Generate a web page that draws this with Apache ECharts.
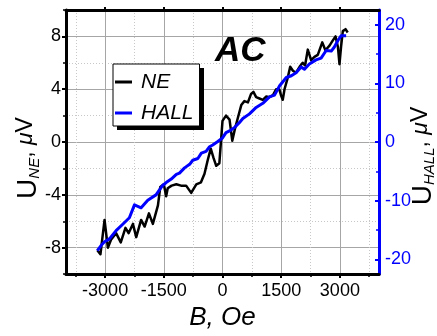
<!DOCTYPE html>
<html>
<head>
<meta charset="utf-8">
<script src="https://cdn.jsdelivr.net/npm/echarts@6/dist/echarts.min.js"></script>
<style>
  html, body { margin: 0; padding: 0; background: #fff; }
  #chart { width: 437px; height: 336px; }
</style>
</head>
<body>
<div id="chart"></div>
<script>
// Nernst-Ettingshausen (NE) signal vs field, left axis (µV)
const neField = [
  -3200, -3120, -3015, -2930, -2850, -2720, -2600, -2480, -2400, -2290,
  -2205, -2080, -1990, -1880, -1780, -1650, -1590, -1500, -1440, -1400,
  -1300, -1180, -1060, -930, -800, -670, -550, -460, -380, -300,
  -230, -160, -80, 0, 90, 180, 250, 310, 390, 480,
  560, 650, 730, 790, 860, 945, 1030, 1120, 1200, 1290,
  1370, 1450, 1500, 1540, 1585, 1670, 1730, 1800, 1880, 1970,
  2050, 2110, 2180, 2265, 2350, 2435, 2550, 2630, 2735, 2820,
  2890, 2950, 2990, 3030, 3075, 3145, 3200
];
const neValues = [
  -8.2, -8.5, -5.9, -8.0, -7.4, -6.9, -7.6, -6.5, -6.9, -6.2,
  -7.2, -5.9, -6.4, -5.4, -6.2, -4.8, -3.4, -3.2, -4.1, -3.5,
  -3.3, -3.2, -3.3, -3.3, -3.85, -3.2, -3.05, -2.4, -1.4, -0.5,
  -1.2, -1.8, -1.6, 1.6, 2.0, 1.7, 0.1, 0.9, 1.8, 2.8,
  3.1, 3.0, 3.65, 3.8, 3.4, 3.3, 3.2, 3.45, 3.4, 3.55,
  4.0, 4.0, 3.5, 3.2, 4.0, 4.9, 5.7, 5.4, 5.25, 5.7,
  6.0, 5.8, 7.0, 6.2, 6.45, 6.6, 7.55, 6.95, 7.3, 7.7,
  8.0, 7.2, 5.9, 7.2, 8.4, 8.55, 8.3
];

// Hall signal vs field, right axis (µV)
const hallField = [
  -3200, -3100, -3015, -2890, -2720, -2550, -2380, -2250, -2080, -1910,
  -1700, -1530, -1440, -1310, -1180, -1100, -970, -840, -760, -630,
  -540, -420, -330, -250, -120, 0, 90, 180, 310, 430,
  520, 690, 860, 1030, 1200, 1330, 1460, 1630, 1760, 1880,
  2010, 2095, 2220, 2390, 2520, 2650, 2780, 2860, 2950, 3030,
  3160
];
const hallValues = [
  -18.5, -17.6, -17.0, -16.5, -15.1, -14.0, -12.9, -10.7, -11.2, -9.9,
  -9.0, -7.4, -6.9, -6.3, -5.5, -5.3, -4.4, -3.8, -3.1, -2.8,
  -1.9, -1.6, -0.8, -0.5, 0.1, 0.7, 1.6, 1.9, 2.5, 3.3,
  4.0, 4.8, 5.9, 6.6, 7.7, 8.0, 9.6, 11.0, 11.3, 11.8,
  12.8, 12.4, 13.3, 14.0, 14.3, 15.6, 15.5, 16.2, 17.3, 18.1,
  18.1
];

// Tick positions
const xMajor = [-3000, -1500, 0, 1500, 3000];
const xMinor = [-3750, -2250, -750, 750, 2250, 3750];
const leftMajor = [-8, -4, 0, 4, 8];
const leftMinor = [-10, -6, -2, 2, 6, 10];
const rightMajor = [-20, -10, 0, 10, 20];
const rightMinor = [-15, -5, 5, 15];

const FONT = '"Liberation Sans", Arial, sans-serif';
const zip = (xs, ys) => xs.map((x, i) => [x, ys[i]]);
const plain = v => String(v);

const chart = echarts.init(document.getElementById('chart'), null, { renderer: 'canvas' });

const majorGrid = { show: true, lineStyle: { color: '#a6a6a6', width: 1, type: 'solid' } };
const minorGrid = { show: true, lineStyle: { color: '#c8c8c8', width: 1, type: [1, 2] } };
const tickLabel = { fontFamily: FONT, fontSize: 18, color: '#000', formatter: plain };

const titleRich = {
  u: { fontFamily: FONT, fontSize: 28, lineHeight: 28, verticalAlign: 'top', color: '#000' },
  s: { fontFamily: FONT, fontSize: 15, fontStyle: 'italic', lineHeight: 15, padding: [17, 0, 0, 0], verticalAlign: 'bottom', color: '#000' },
  t: { fontFamily: FONT, fontSize: 23, lineHeight: 28, verticalAlign: 'top', color: '#000' },
  m: { fontFamily: FONT, fontSize: 23, fontStyle: 'italic', lineHeight: 28, verticalAlign: 'top', color: '#000' }
};

const blackLine = w => ({ show: true, onZero: false, lineStyle: { color: '#000', width: w } });

chart.setOption({
  animation: false,
  backgroundColor: '#fff',
  grid: { left: 66, right: 58, top: 10, bottom: 53, containLabel: false },
  xAxis: [
    {
      type: 'value', position: 'bottom', min: -4000, max: 4000,
      axisLine: blackLine(3),
      axisTick: { show: true, customValues: xMajor, length: 4, lineStyle: { color: '#000', width: 2 } },
      axisLabel: { show: true, customValues: xMajor, margin: 8, ...tickLabel },
      splitLine: majorGrid,
      name: 'B, Oe', nameLocation: 'middle', nameGap: 30,
      nameTextStyle: { fontFamily: FONT, fontSize: 26, fontStyle: 'italic', color: '#000' }
    },
    {
      type: 'value', position: 'bottom', min: -4000, max: 4000,
      axisLine: { show: false, onZero: false },
      axisTick: { show: true, customValues: xMinor, length: 3, lineStyle: { color: '#000', width: 1.5 } },
      axisLabel: { show: false },
      splitLine: minorGrid
    },
    {
      type: 'value', position: 'top', min: -4000, max: 4000,
      axisLine: blackLine(3),
      axisTick: { show: true, customValues: xMajor, length: 3, lineStyle: { color: '#000', width: 2 } },
      axisLabel: { show: false },
      splitLine: { show: false }
    }
  ],
  yAxis: [
    {
      type: 'value', position: 'left', min: -10, max: 10,
      axisLine: blackLine(3),
      axisTick: { show: true, customValues: leftMajor, length: 4, lineStyle: { color: '#000', width: 2 } },
      axisLabel: { show: true, customValues: leftMajor, margin: 5, ...tickLabel },
      splitLine: majorGrid
    },
    {
      type: 'value', position: 'left', min: -10, max: 10,
      axisLine: { show: false, onZero: false },
      axisTick: { show: true, customValues: leftMinor, length: 3, lineStyle: { color: '#000', width: 1.5 } },
      axisLabel: { show: false },
      splitLine: minorGrid
    },
    {
      type: 'value', position: 'right', min: -22.5, max: 22.5,
      axisLine: { show: true, onZero: false, lineStyle: { color: '#0000ff', width: 3 } },
      axisTick: { show: true, inside: true, customValues: rightMajor, length: 4, lineStyle: { color: '#0000ff', width: 2 } },
      axisLabel: { show: true, customValues: rightMajor, margin: 6, ...tickLabel, color: '#0000ff' },
      splitLine: { show: false }
    },
    {
      type: 'value', position: 'right', min: -22.5, max: 22.5,
      axisLine: { show: false, onZero: false },
      axisTick: { show: true, inside: true, customValues: rightMinor, length: 3, lineStyle: { color: '#0000ff', width: 1.5 } },
      axisLabel: { show: false },
      splitLine: { show: false }
    }
  ],
  legend: {
    orient: 'vertical', left: 113, top: 64, z: 10,
    padding: [6, 6, 1, 2], itemGap: 7, itemWidth: 17, itemHeight: 3,
    icon: 'rect',
    backgroundColor: '#fff', borderColor: '#000', borderWidth: 1,
    textStyle: { fontFamily: FONT, fontSize: 21, fontStyle: 'italic', lineHeight: 24, color: '#000', padding: [0, 0, 0, 4] },
    data: ['NE', 'HALL']
  },
  graphic: [
    {
      // drop shadow behind the legend box
      type: 'rect', left: 117, top: 68, z: 5,
      shape: { width: 87, height: 62 },
      style: { fill: '#000' }
    },
    {
      type: 'text', left: 215, top: 34, z: 20,
      style: { text: 'AC', fontFamily: FONT, fontSize: 35, fontStyle: 'italic', fontWeight: 'bold', fill: '#000' }
    },
    {
      type: 'text', x: 42, y: 158, rotation: Math.PI / 2,
      style: { text: '{u|U}{s|NE}{t|, }{m|μ}{t|V}', align: 'center', verticalAlign: 'bottom', rich: titleRich }
    },
    {
      type: 'text', x: 437, y: 156, rotation: Math.PI / 2,
      style: { text: '{u|U}{s|HALL}{t|, }{m|μ}{t|V}', align: 'center', verticalAlign: 'bottom', rich: titleRich }
    }
  ],
  series: [
    {
      name: 'NE', type: 'line', xAxisIndex: 0, yAxisIndex: 0,
      data: zip(neField, neValues),
      showSymbol: false, symbol: 'none',
      lineStyle: { color: '#000', width: 2.5, join: 'round' },
      itemStyle: { color: '#000' }
    },
    {
      name: 'HALL', type: 'line', xAxisIndex: 0, yAxisIndex: 2,
      data: zip(hallField, hallValues),
      showSymbol: false, symbol: 'none',
      lineStyle: { color: '#0000ff', width: 3, join: 'round' },
      itemStyle: { color: '#0000ff' }
    }
  ]
});
</script>
</body>
</html>
